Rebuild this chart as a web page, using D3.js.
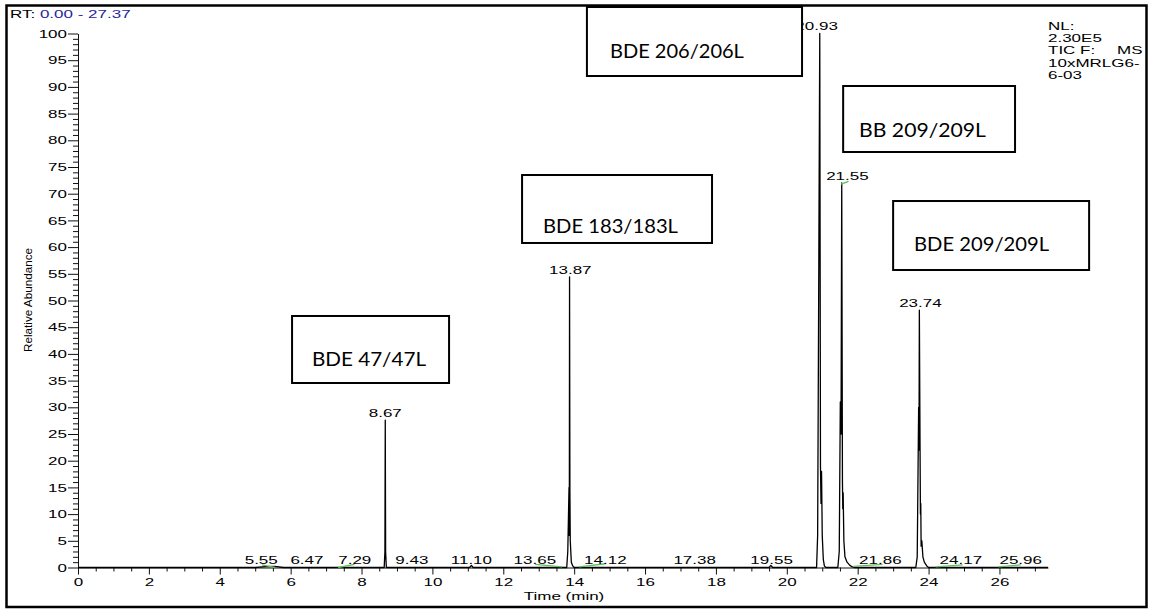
<!DOCTYPE html>
<html>
<head>
<meta charset="utf-8">
<script src="https://cdn.jsdelivr.net/npm/d3@7"></script>
<style>
  body { margin: 0; background: #fff; }
  svg text { font-family: "Liberation Sans", Arial, sans-serif; }
</style>
</head>
<body>
<script>
'use strict';

var width  = 1152;
var height = 610;
var stretch = 1.7;   // the original print is stretched sideways

// TIC trace: time (min) / relative abundance (%)
var traceTime = [0, 5.00, 5.30, 5.55, 5.80,
  8.64, 8.66, 8.67, 8.68, 8.70,
  11.05, 11.10, 11.15,
  13.79, 13.82, 13.855, 13.86, 13.865, 13.87, 13.88, 13.89, 13.92, 13.96, 14.00,
  19.50, 19.55, 19.60,
  20.84, 20.87, 20.90, 20.93, 20.95, 20.965, 20.98, 21.00, 21.03, 21.06, 21.10,
  21.44, 21.48, 21.51, 21.53, 21.55, 21.57, 21.58, 21.59, 21.61, 21.64, 21.70, 21.78, 21.85, 21.90,
  23.64, 23.68, 23.72, 23.73, 23.74, 23.76, 23.77, 23.78, 23.79, 23.81, 23.84, 23.88, 23.95, 24.00,
  27.37];
var traceAbund = [0, 0, 0.15, 0.2, 0,
  0, 3, 27.6, 3, 0,
  0, 0.4, 0,
  0, 3, 15, 6, 15, 54.4, 14, 5, 1, 0.3, 0,
  0, 0.4, 0,
  0, 6, 52, 100, 19, 12, 18, 6, 1.5, 0.3, 0,
  0, 3, 31, 25, 72, 16, 11, 14, 5, 2, 1, 0.4, 0.1, 0,
  0, 2, 30, 22, 48.2, 22, 10, 12, 4, 5, 2, 1, 0.3, 0,
  0];

// labels on the main peaks
var peakLabels     = ['8.67', '13.87', '20.93', '21.55', '23.74'];
var peakLabelTime  = [8.67, 13.89, 20.84, 21.71, 23.77];
var peakLabelAbund = [27.6, 54.4, 100, 72, 48.2];

// labels sitting on the baseline
var baseLabels    = ['5.55', '6.47', '7.29', '9.43', '11.10', '13.65', '14.12', '17.38', '19.55', '21.86', '24.17', '25.96'];
var baseLabelTime = [5.17, 6.46, 7.81, 9.42, 11.10, 12.89, 14.88, 17.40, 19.57, 22.64, 24.91, 26.60];

// green integration marks [t0, v0, t1, v1]
var greenMarks = [
  [5.19, 0.5, 5.56, 0.0],
  [7.34, 0.0, 7.80, 0.6],
  [12.90, 0.6, 13.66, 0.1],
  [14.14, 0.1, 14.88, 0.7],
  [21.88, 0.2, 22.70, 0.6],
  [24.20, 0.1, 24.96, 0.5],
  [25.97, 0.1, 26.60, 0.5],
  [21.53, 71.8, 21.74, 72.3]
];

// compound boxes, in chart units: [left, right, top, bottom, textX, textBaseline, textWidth]
var boxNames = ['BDE 206/206L', 'BB 209/209L', 'BDE 183/183L', 'BDE 209/209L', 'BDE 47/47L'];
var boxSpots = [
  [14.36, 20.43, 104.96, 92.04, 15.01, 95.5, 3.78],
  [21.59, 26.44, 90.17, 77.81, 22.04, 80.6, 3.58],
  [12.53, 17.89, 73.50, 60.77, 13.12, 62.6, 3.81],
  [23.00, 28.53, 68.63, 55.71, 23.59, 59.3, 3.81],
  [6.04, 10.47, 47.10, 34.55, 6.60, 37.7, 3.22]
];

var xTicks = [0, 2, 4, 6, 8, 10, 12, 14, 16, 18, 20, 22, 24, 26];
var yTicks = [0, 5, 10, 15, 20, 25, 30, 35, 40, 45, 50, 55, 60, 65, 70, 75, 80, 85, 90, 95, 100];
var infoLines = ['NL:', '2.30E5', 'TIC F:', '10xMRLG6-', '6-03'];

var x = d3.scaleLinear().domain([0, 27.37]).range([78, 1048]);
var y = d3.scaleLinear().domain([0, 100]).range([567.5, 33.5]);

var svg = d3.select('body').append('svg')
    .attr('width', width)
    .attr('height', height);

// frame
svg.append('rect')
  .attr('x', 6.5).attr('y', 5.5)
  .attr('width', 1140).attr('height', 601.5)
  .attr('fill', 'none').attr('stroke', '#000').attr('stroke-width', 2.5);

// x axis
var xMinor = d3.range(0, 27.37, 0.5).filter(function(d) { return d % 2 !== 0; });
svg.append('g')
  .attr('transform', 'translate(0,' + y(0) + ')')
  .call(d3.axisBottom(x).tickValues(xMinor).tickSize(4).tickSizeOuter(0).tickFormat(''))
  .call(function(g) { g.select('.domain').remove(); });

var gx = svg.append('g')
  .attr('transform', 'translate(0,' + y(0) + ')')
  .call(d3.axisBottom(x).tickValues(xTicks).tickSize(7).tickSizeOuter(0).tickFormat(d3.format('d')));
gx.selectAll('text')
  .attr('y', 0).attr('dy', 0)
  .attr('font-size', 10)
  .attr('fill', '#000')
  .attr('transform', 'translate(0,18.5) scale(' + stretch + ',1)');

// y axis
var yMinor = d3.range(0, 101, 1).filter(function(d) { return d % 5 !== 0; });
svg.append('g')
  .attr('transform', 'translate(' + x(0) + ',0)')
  .call(d3.axisLeft(y).tickValues(yMinor).tickSize(5).tickSizeOuter(0).tickFormat(''))
  .call(function(g) { g.select('.domain').remove(); });

var gy = svg.append('g')
  .attr('transform', 'translate(' + x(0) + ',0)')
  .call(d3.axisLeft(y).tickValues(yTicks).tickSize(10).tickSizeOuter(0));
gy.selectAll('text')
  .attr('x', 0)
  .attr('dy', '0.36em')
  .attr('font-size', 10)
  .attr('fill', '#000')
  .attr('transform', 'translate(-11,0) scale(' + stretch + ',1)');

svg.selectAll('.tick line, .domain').attr('stroke', '#111');

// axis titles
svg.append('text')
  .attr('transform', 'translate(564,599.5) scale(' + stretch + ',1)')
  .attr('text-anchor', 'middle')
  .attr('font-size', 10)
  .text('Time (min)');

svg.append('text')
  .attr('transform', 'translate(32,300) rotate(-90)')
  .attr('text-anchor', 'middle')
  .attr('font-size', 10)
  .attr('textLength', 104)
  .attr('lengthAdjust', 'spacingAndGlyphs')
  .text('Relative Abundance');

// trace
var line = d3.line()
  .x(function(d) { return x(traceTime[d]); })
  .y(function(d) { return y(traceAbund[d]); });

svg.append('path')
  .attr('d', line(d3.range(traceTime.length)))
  .attr('fill', 'none')
  .attr('stroke', '#000')
  .attr('stroke-width', 1.3)
  .attr('stroke-linejoin', 'round');

// green marks
svg.selectAll('.green').data(greenMarks).enter().append('line')
  .attr('class', 'green')
  .attr('x1', function(d) { return x(d[0]); })
  .attr('y1', function(d) { return y(d[1]); })
  .attr('x2', function(d) { return x(d[2]); })
  .attr('y2', function(d) { return y(d[3]); })
  .attr('stroke', '#5cbf5c')
  .attr('stroke-width', 1.3);

// peak labels
svg.selectAll('.plab').data(peakLabels).enter().append('text')
  .attr('class', 'plab')
  .attr('font-size', 10)
  .attr('text-anchor', 'middle')
  .attr('transform', function(d, i) {
    return 'translate(' + x(peakLabelTime[i]) + ',' + (y(peakLabelAbund[i]) - 3.5) + ') scale(' + stretch + ',1)';
  })
  .text(function(d) { return d; });

svg.selectAll('.blab').data(baseLabels).enter().append('text')
  .attr('class', 'blab')
  .attr('font-size', 10)
  .attr('text-anchor', 'middle')
  .attr('transform', function(d, i) {
    return 'translate(' + x(baseLabelTime[i]) + ',' + (y(0) - 4) + ') scale(' + stretch + ',1)';
  })
  .text(function(d) { return d; });

// header
var rt = svg.append('text')
  .attr('font-size', 10)
  .attr('transform', 'translate(10,18.3) scale(' + stretch + ',1)');
rt.append('tspan').attr('fill', '#000').text('RT: ');
rt.append('tspan').attr('fill', '#2626a0').text('0.00 - 27.37');

svg.selectAll('.info').data(infoLines).enter().append('text')
  .attr('class', 'info')
  .attr('font-size', 10)
  .attr('transform', function(d, i) {
    return 'translate(1048,' + (30 + i * 12.2) + ') scale(' + stretch + ',1)';
  })
  .text(function(d) { return d; });
svg.append('text')
  .attr('font-size', 10)
  .attr('transform', 'translate(1117,' + (30 + 2 * 12.2) + ') scale(' + stretch + ',1)')
  .text('MS');

// compound boxes on top
var boxes = svg.selectAll('.box').data(boxSpots).enter().append('g').attr('class', 'box');
boxes.append('rect')
  .attr('x', function(d) { return x(d[0]); })
  .attr('y', function(d) { return y(d[2]); })
  .attr('width', function(d) { return x(d[1]) - x(d[0]); })
  .attr('height', function(d) { return y(d[3]) - y(d[2]); })
  .attr('fill', '#fff')
  .attr('stroke', '#000')
  .attr('stroke-width', 2);
boxes.append('text')
  .attr('x', function(d) { return x(d[4]); })
  .attr('y', function(d) { return y(d[5]); })
  .attr('textLength', function(d) { return x(d[4] + d[6]) - x(d[4]); })
  .attr('lengthAdjust', 'spacingAndGlyphs')
  .style('font-family', 'Lato, Carlito, "Open Sans", sans-serif')
  .attr('font-size', 19)
  .text(function(d, i) { return boxNames[i]; });
</script>
</body>
</html>
